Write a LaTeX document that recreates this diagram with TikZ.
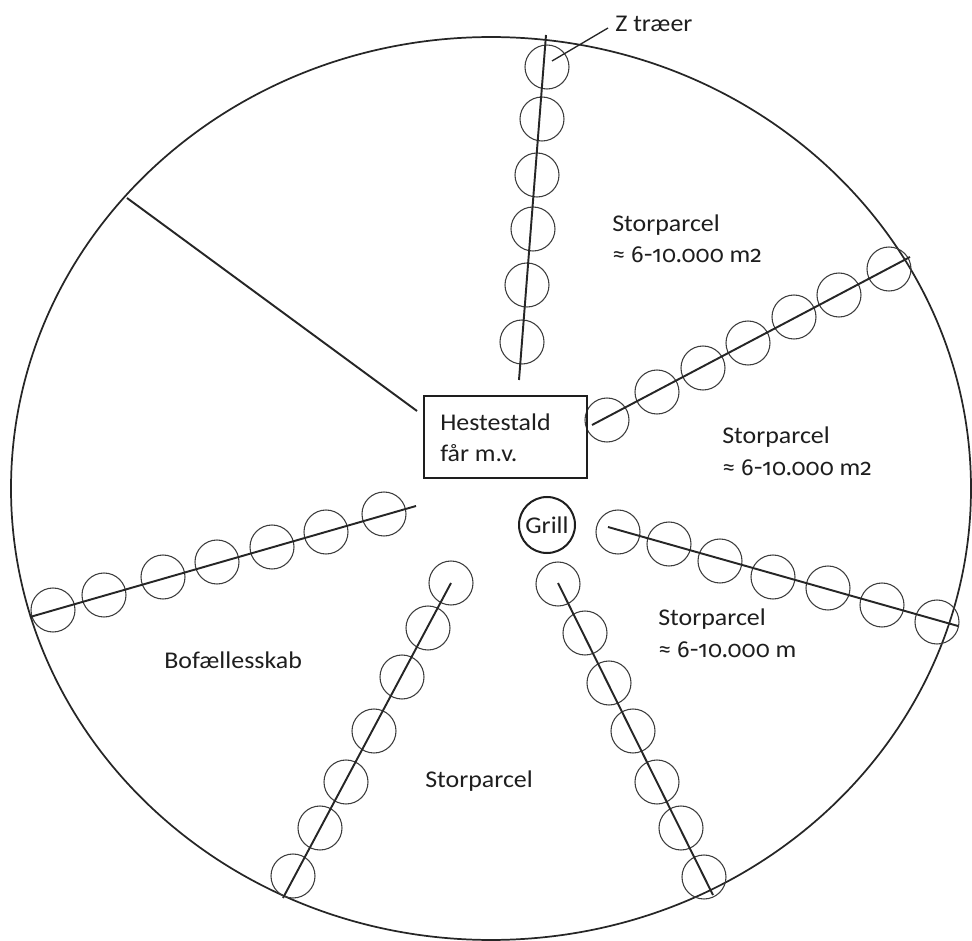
\documentclass[tikz,border=0pt]{standalone}
\usepackage{fontspec}
\setmainfont[FakeStretch=1.08]{Carlito}
\newfontfamily\numfont[Numbers=OldStyle]{Fira Sans}
\newcommand{\onum}[1]{{\numfont\fontsize{17.4}{20}\selectfont #1}}
\definecolor{ink}{HTML}{1E1E1E}
\definecolor{linec}{HTML}{262626}
\definecolor{treec}{HTML}{3C3C3C}
\tikzset{
  tree/.style={circle, draw=treec, line width=0.8pt, minimum size=33pt, inner sep=0pt},
  spoke/.style={draw=linec, line width=1.45pt},
  lbl/.style={text=ink, font=\fontsize{18}{23.6}\selectfont, inner sep=0pt, align=left, anchor=base west},
}
\begin{document}
\begin{tikzpicture}[x=0.75pt,y=-0.75pt]
\useasboundingbox (0,0) rectangle (972,941);
% outer boundary
\draw[linec, line width=1.3pt] (491,488.5) ellipse [x radius=360pt, y radius=338.6pt];

% top row of trees
\foreach \n/\x/\y in {1/547/67, 2/542/119, 3/537/175, 4/533/229, 5/527/285, 6/522/342}
  \node[tree] (t\n) at (\x,\y) {};
\coordinate (ta) at (546,35);
\coordinate (tb) at (519,380);
\draw[spoke] (ta) -- (tb);

% north-east row
\foreach \n/\x/\y in {1/607/420, 2/657/392, 3/703/368, 4/748/343, 5/794/317, 6/839/295, 7/889/269}
  \node[tree] (n\n) at (\x,\y) {};
\coordinate (na) at (592,425);
\coordinate (nb) at (910,257);
\draw[spoke] (na) -- (nb);

% east row
\foreach \n/\x/\y in {1/618/532, 2/669/544, 3/720/561, 4/773/577, 5/828/588, 6/882/605, 7/937/622}
  \node[tree] (e\n) at (\x,\y) {};
\coordinate (ea) at (608,527);
\coordinate (eb) at (958,626);
\draw[spoke] (ea) -- (eb);

% west row
\foreach \n/\x/\y in {1/53/610, 2/104/595, 3/163/577, 4/217/562, 5/272/547, 6/326/532, 7/384/514}
  \node[tree] (w\n) at (\x,\y) {};
\coordinate (wa) at (30,617);
\coordinate (wb) at (416,506);
\draw[spoke] (wa) -- (wb);

% south-west row
\foreach \n/\x/\y in {1/451/583, 2/428/628, 3/402/677, 4/374/731, 5/346/782, 6/320/828, 7/293/876}
  \node[tree] (s\n) at (\x,\y) {};
\coordinate (sa) at (451,583);
\coordinate (sb) at (283,898);
\draw[spoke] (sa) -- (sb);

% south-east row
\foreach \n/\x/\y in {1/558/584, 2/585/633, 3/609/683, 4/633/731, 5/657/782, 6/681/828, 7/704/877}
  \node[tree] (r\n) at (\x,\y) {};
\coordinate (ra) at (558,583);
\coordinate (rb) at (713,895);
\draw[spoke] (ra) -- (rb);

% north-west divider
\coordinate (da) at (127,198);
\coordinate (db) at (417,411);
\draw[spoke] (da) -- (db);

% central buildings
\node[draw=ink, line width=1.8pt, minimum width=122.25pt, minimum height=61.5pt, inner sep=0pt, anchor=north west] (stald) at (423,395) {};
\node[lbl, font=\fontsize{18}{24}\selectfont] (staldtxt) at (440,462) {Hestestald\\får m.v.};
\node[circle, draw=ink, line width=1.5pt, minimum size=42pt, inner sep=0pt, text=ink, font=\fontsize{18}{20}\selectfont] (grill) at (547,525) {Grill};

% annotation
\node[lbl] (ztxt) at (615,32) {Z træer};
\coordinate (za) at (552,61);
\coordinate (zb) at (608,28);
\draw[linec, line width=1pt] (za) -- (zb);

% labels
\node[lbl] (p1) at (612,263) {Storparcel\\≈ \onum{6-10.000} m\onum{2}};
\node[lbl] (p2) at (722,475) {Storparcel\\≈ \onum{6-10.000} m\onum{2}};
\node[lbl] (p3) at (658,657) {Storparcel\\≈ \onum{6-10.000} m};
\node[lbl] (p4) at (425,787) {Storparcel};
\node[lbl] (bo) at (164,668) {Bofællesskab};
\end{tikzpicture}
\end{document}
